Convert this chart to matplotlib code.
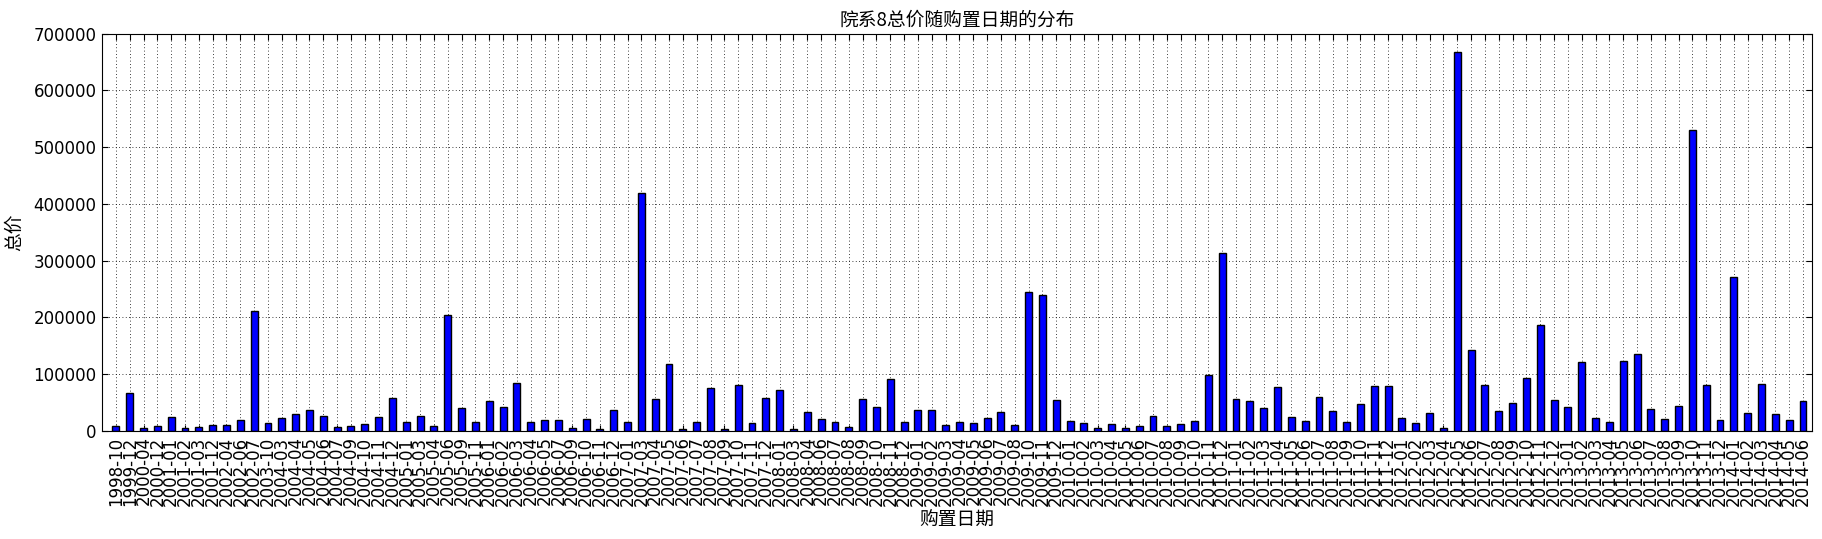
import matplotlib
matplotlib.use("Agg")
import matplotlib.pyplot as plt
import numpy as np

plt.rcParams["font.family"] = ["DejaVu Sans", "Noto Sans CJK SC"]

dates = [
    "1998-10", "1999-12", "2000-04", "2000-12", "2001-01", "2001-02", "2001-03", "2001-12",
    "2002-04", "2002-06", "2002-07", "2003-10", "2004-03", "2004-04", "2004-05", "2004-06",
    "2004-07", "2004-09", "2004-10", "2004-11", "2004-12", "2005-01", "2005-03", "2005-04",
    "2005-06", "2005-09", "2005-11", "2006-01", "2006-02", "2006-03", "2006-04", "2006-05",
    "2006-07", "2006-09", "2006-10", "2006-11", "2006-12", "2007-01", "2007-03", "2007-04",
    "2007-05", "2007-06", "2007-07", "2007-08", "2007-09", "2007-10", "2007-11", "2007-12",
    "2008-01", "2008-03", "2008-04", "2008-06", "2008-07", "2008-08", "2008-09", "2008-10",
    "2008-11", "2008-12", "2009-01", "2009-02", "2009-03", "2009-04", "2009-05", "2009-06",
    "2009-07", "2009-08", "2009-10", "2009-11", "2009-12",
    "2010-01", "2010-02", "2010-03", "2010-04", "2010-05", "2010-06", "2010-07", "2010-08",
    "2010-09", "2010-10", "2010-11", "2010-12",
    "2011-01", "2011-02", "2011-03", "2011-04", "2011-05", "2011-06", "2011-07", "2011-08",
    "2011-09", "2011-10", "2011-11", "2011-12",
    "2012-01", "2012-02", "2012-03", "2012-04", "2012-05", "2012-06", "2012-07", "2012-08",
    "2012-09", "2012-10", "2012-11", "2012-12",
    "2013-01", "2013-02", "2013-03", "2013-04", "2013-05", "2013-06", "2013-07", "2013-08",
    "2013-09", "2013-10", "2013-11", "2013-12",
    "2014-01", "2014-02", "2014-03", "2014-04", "2014-05", "2014-06",
]

total_price = [
    8000, 67000, 4700, 8000, 24000, 4700, 6500, 10000,
    10000, 19000, 212000, 14000, 22000, 30000, 36500, 26000,
    6500, 8000, 12000, 24500, 58000, 15000, 26500, 9000,
    205000, 40000, 15000, 53000, 42000, 85000, 16000, 19000,
    19000, 5000, 21000, 3500, 37000, 16000, 420000, 56000,
    118000, 3000, 16000, 75000, 3000, 81000, 13500, 57600,
    72000, 3000, 33000, 20600, 16000, 6500, 56000, 42000,
    92000, 16000, 36500, 36500, 10600, 16000, 14000, 22000,
    33000, 10600, 245000, 240000, 54000,
    17000, 14000, 4700, 12000, 4700, 8000, 26000, 8000,
    12000, 17000, 99000, 313000,
    56000, 53000, 40000, 77600, 24000, 17000, 59000, 35000,
    15000, 47000, 79000, 79000,
    22000, 14000, 31000, 4700, 667000, 142000, 81000, 35000,
    49000, 93000, 187000, 54000,
    42000, 122000, 22000, 15000, 124000, 135000, 38000, 20600,
    43500, 530000, 81000, 19000,
    271000, 32000, 82000, 30000, 19000, 52000,
]

fig = plt.figure(figsize=(18.22, 5.39), dpi=100)
ax = fig.add_axes([0.056, 0.2005, 0.9385, 0.737])

x = np.arange(len(dates))
ax.bar(x, total_price, width=0.5, color="#0000ff", edgecolor="black", linewidth=1.0, zorder=2)

ax.set_xlim(-1.0, len(dates) - 0.35)
ax.set_ylim(0, 700000)
ax.set_yticks(np.arange(0, 700001, 100000))
ax.set_xticks(x)
ax.set_xticklabels(dates, rotation=90, fontsize=12)
ax.tick_params(axis="y", labelsize=12)
ax.tick_params(direction="in", top=True, right=True, length=4, width=0.8, pad=4)
ax.grid(True, color="black", linestyle=(0, (1, 3)), linewidth=0.6, zorder=0)
ax.set_axisbelow(True)

ax.set_title("院系8总价随购置日期的分布", fontsize=13.5, family=["Noto Sans CJK SC"])
ax.set_xlabel("购置日期", fontsize=13.5, family=["Noto Sans CJK SC"], labelpad=3)
ax.set_ylabel("总价", fontsize=13.5, family=["Noto Sans CJK SC"], labelpad=6)

fig.savefig("out.png", dpi=100)
